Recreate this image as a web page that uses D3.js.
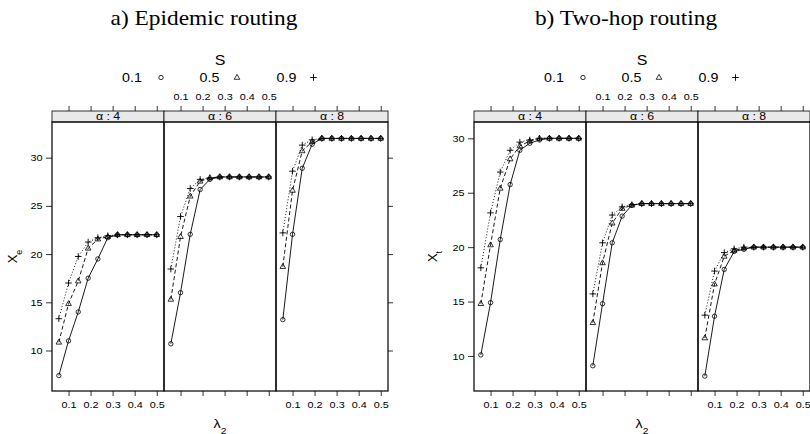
<!DOCTYPE html>
<html><head><meta charset="utf-8">
<script src="https://cdn.jsdelivr.net/npm/d3@7"></script>
<style>
body{margin:0;background:#fff}
svg{display:block}
text{font-family:"Liberation Sans",Arial,Helvetica,sans-serif;fill:#000}
</style>
</head><body>
<svg id="c" width="810" height="434"></svg>
<script>
// ---------- data ----------
const lambda2 = [0.056, 0.1, 0.144, 0.189, 0.233, 0.278, 0.322, 0.367, 0.411, 0.456, 0.5];
const alphaLevels = [4, 6, 8];
const sLevels = ["0.1", "0.5", "0.9"];
const xTickValues = [0.1, 0.2, 0.3, 0.4, 0.5];
const yTickValues = [10, 15, 20, 25, 30];

// a) Epidemic routing  (X_e)
const epiA4S01 = [7.4, 11.0, 14.0, 17.5, 19.5, 21.7, 22.0, 22.0, 22.0, 22.0, 22.0];
const epiA4S05 = [10.85, 14.85, 17.2, 20.6, 21.55, 21.8, 22.0, 22.0, 22.0, 22.0, 22.0];
const epiA4S09 = [13.3, 17.0, 19.75, 21.25, 21.7, 21.9, 22.0, 22.0, 22.0, 22.0, 22.0];
const epiA6S01 = [10.7, 16.0, 22.05, 26.7, 27.75, 28.0, 28.0, 28.0, 28.0, 28.0, 28.0];
const epiA6S05 = [15.3, 21.8, 26.0, 27.55, 27.9, 28.0, 28.0, 28.0, 28.0, 28.0, 28.0];
const epiA6S09 = [18.45, 23.9, 26.8, 27.75, 27.9, 28.0, 28.0, 28.0, 28.0, 28.0, 28.0];
const epiA8S01 = [13.2, 22.05, 28.9, 31.4, 32.0, 32.0, 32.0, 32.0, 32.0, 32.0, 32.0];
const epiA8S05 = [18.7, 26.6, 30.7, 31.65, 32.0, 32.0, 32.0, 32.0, 32.0, 32.0, 32.0];
const epiA8S09 = [22.2, 28.6, 31.3, 31.85, 32.0, 32.0, 32.0, 32.0, 32.0, 32.0, 32.0];

// b) Two-hop routing  (X_t)
const twoA4S01 = [10.1, 14.9, 20.7, 25.75, 28.9, 29.55, 29.85, 30.0, 30.0, 30.0, 30.0];
const twoA4S05 = [14.8, 20.2, 25.4, 28.1, 29.3, 29.75, 30.0, 30.0, 30.0, 30.0, 30.0];
const twoA4S09 = [18.1, 23.15, 26.9, 28.9, 29.65, 29.85, 30.0, 30.0, 30.0, 30.0, 30.0];
const twoA6S01 = [9.1, 14.8, 20.4, 22.85, 23.85, 24.0, 24.0, 24.0, 24.0, 24.0, 24.0];
const twoA6S05 = [13.05, 18.55, 22.2, 23.55, 23.85, 24.0, 24.0, 24.0, 24.0, 24.0, 24.0];
const twoA6S09 = [15.7, 20.4, 22.95, 23.7, 23.9, 24.0, 24.0, 24.0, 24.0, 24.0, 24.0];
const twoA8S01 = [8.15, 13.65, 17.95, 19.6, 19.8, 20.0, 20.0, 20.0, 20.0, 20.0, 20.0];
const twoA8S05 = [11.65, 16.6, 19.15, 19.7, 19.9, 20.0, 20.0, 20.0, 20.0, 20.0, 20.0];
const twoA8S09 = [13.75, 17.8, 19.5, 19.85, 20.0, 20.0, 20.0, 20.0, 20.0, 20.0, 20.0];

// ---------- drawing ----------
const svg = d3.select("#c");
const SX = 1.14; // horizontal glyph stretch seen in the reference
const PW = 112, STRIP_TOP = 111, TOP = 122, BOTTOM = 391;
const dashes = [null, "4,2.5", "1,2"];

function txt(parent, x, y, s, size, anchor, family) {
  const t = parent.append("text")
    .attr("transform", `translate(${x},${y}) scale(${SX},1)`)
    .attr("text-anchor", anchor || "middle")
    .style("font-size", size + "px");
  if (family) t.style("font-family", family);
  if (s !== null) t.text(s);
  return t;
}

function marker(sel, k) {
  if (k === 0) {
    sel.append("circle").attr("r", 2.2).attr("fill", "none").attr("stroke", "#000").attr("stroke-width", 0.8);
  } else if (k === 1) {
    sel.append("path").attr("d", "M0,-3.1L2.8,1.8L-2.8,1.8Z").attr("fill", "none").attr("stroke", "#000").attr("stroke-width", 0.8);
  } else {
    sel.append("path").attr("d", "M-3.3,0H3.3M0,-3.3V3.3").attr("stroke", "#000").attr("stroke-width", 0.9);
  }
}

function stretchAxisText(g) {
  g.selectAll("text").each(function () {
    const t = d3.select(this);
    const xv = +(t.attr("x") || 0);
    t.attr("x", xv / SX).attr("transform", `scale(${SX},1)`);
  });
  g.select(".domain").remove();
  g.selectAll("line").attr("stroke", "#000").attr("stroke-width", 0.8);
  g.selectAll("text").style("font-size", "9.5px").style("font-family", '"Liberation Sans",Arial,sans-serif');
}

function drawChart(opts) {
  const g = svg.append("g");
  const left = opts.left;
  const cx = left + PW * 1.5;
  const x = d3.scaleLinear().domain([0.025, 0.533]).range([0, PW]);
  const y = d3.scaleLinear().domain(opts.yDomain).range([BOTTOM, TOP]);
  const line = d3.line().x((d, j) => x(lambda2[j])).y(d => y(d));

  // title
  txt(g, opts.titleX, 25, opts.title, 20.5, "middle", '"Liberation Serif","Times New Roman",serif');

  // legend
  txt(g, cx, 65, "S", 14, "middle");
  const legX = [[-88, -59], [-10.5, 17], [66.5, 93.5]];
  sLevels.forEach((s, k) => {
    txt(g, cx + legX[k][0], 81.5, s, 12.5, "middle");
    const m = g.append("g").attr("transform", `translate(${cx + legX[k][1]},77.5)`);
    marker(m, k);
  });

  opts.panels.forEach((series, i) => {
    const pg = g.append("g").attr("transform", `translate(${left + i * PW},0)`);
    // strip
    pg.append("rect").attr("x", 0).attr("y", STRIP_TOP).attr("width", PW).attr("height", TOP - STRIP_TOP)
      .attr("fill", "#e9e9e9").attr("stroke", "#000").attr("stroke-width", 0.8);
    const st = txt(pg, PW / 2, 120, null, 10.8, "middle");
    st.append("tspan").text("\u03B1");
    st.append("tspan").text(" : " + alphaLevels[i]);

    // series
    series.forEach((vals, k) => {
      pg.append("path").datum(vals).attr("d", line)
        .attr("fill", "none").attr("stroke", "#000").attr("stroke-width", 0.9)
        .attr("stroke-dasharray", dashes[k]);
      vals.forEach((v, j) => {
        const m = pg.append("g").attr("transform", `translate(${x(lambda2[j])},${y(v)})`);
        marker(m, k);
      });
    });

    // panel border
    pg.append("rect").attr("x", 0).attr("y", TOP).attr("width", PW).attr("height", BOTTOM - TOP)
      .attr("fill", "none").attr("stroke", "#111").attr("stroke-width", 1.3);

    // bottom axis (labels on panels 1 and 3)
    const bx = pg.append("g").attr("transform", `translate(0,${BOTTOM})`)
      .call(d3.axisBottom(x).tickValues(xTickValues).tickSize(5).tickPadding(5)
        .tickFormat(i === 1 ? () => "" : d3.format(".1f")));
    stretchAxisText(bx);
    // top axis (labels on panel 2)
    const tx = pg.append("g").attr("transform", `translate(0,${STRIP_TOP})`)
      .call(d3.axisTop(x).tickValues(xTickValues).tickSize(5).tickPadding(6)
        .tickFormat(i === 1 ? d3.format(".1f") : () => ""));
    stretchAxisText(tx);
  });

  // left axis
  const ly = g.append("g").attr("transform", `translate(${left},0)`)
    .call(d3.axisLeft(y).tickValues(yTickValues).tickSize(6).tickPadding(3.5));
  stretchAxisText(ly);
  // right ticks
  const ry = g.append("g").attr("transform", `translate(${left + 3 * PW},0)`)
    .call(d3.axisRight(y).tickValues(yTickValues).tickSize(5).tickFormat(() => ""));
  stretchAxisText(ry);

  // y label
  const yl = g.append("text").attr("transform", `translate(${opts.ylabelX},${(TOP + BOTTOM) / 2}) rotate(-90)`)
    .attr("text-anchor", "middle").style("font-size", "13px");
  yl.append("tspan").text("X");
  yl.append("tspan").attr("baseline-shift", "sub").style("font-size", "9px").text(opts.ysub);

  // x label
  const xl = txt(g, cx, 428, null, 12.5, "middle");
  xl.append("tspan").text("\u03BB");
  xl.append("tspan").attr("baseline-shift", "sub").style("font-size", "9px").text("2");
}

drawChart({
  left: 52, titleX: 204, title: "a) Epidemic routing",
  yDomain: [5.8, 33.7], ylabelX: 17, ysub: "e",
  panels: [
    [epiA4S01, epiA4S05, epiA4S09],
    [epiA6S01, epiA6S05, epiA6S09],
    [epiA8S01, epiA8S05, epiA8S09]
  ]
});
drawChart({
  left: 474, titleX: 626, title: "b) Two-hop routing",
  yDomain: [6.78, 31.5], ylabelX: 437, ysub: "t",
  panels: [
    [twoA4S01, twoA4S05, twoA4S09],
    [twoA6S01, twoA6S05, twoA6S09],
    [twoA8S01, twoA8S05, twoA8S09]
  ]
});
</script>
</body></html>
